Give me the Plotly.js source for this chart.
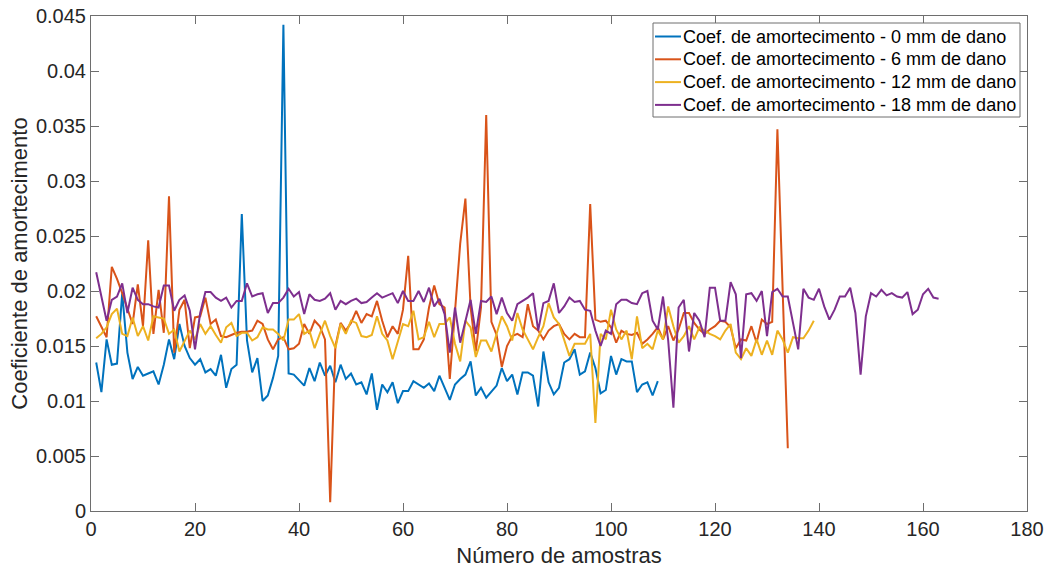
<!DOCTYPE html>
<html>
<head>
<meta charset="utf-8">
<script src="https://cdn.plot.ly/plotly-3.0.1.min.js"></script>
<style>
  html, body { margin: 0; padding: 0; background: #ffffff; }
  #chart { width: 1051px; height: 572px; }
</style>
</head>
<body>
<div id="chart"></div>
<script>
// Series names
const seriesNames = [
  "Coef. de amortecimento - 0 mm de dano",
  "Coef. de amortecimento - 6 mm de dano",
  "Coef. de amortecimento - 12 mm de dano",
  "Coef. de amortecimento - 18 mm de dano"
];

// 0 mm damage (samples 1..109)
const dano0 = [
  0.0135, 0.0108, 0.0156, 0.0133, 0.0134, 0.0198, 0.0144, 0.0120, 0.0131, 0.0123,
  0.0125, 0.0127, 0.0115, 0.0133, 0.0156, 0.0138, 0.0170, 0.0150, 0.0139, 0.0133,
  0.0138, 0.0126, 0.0129, 0.0123, 0.0142, 0.0112, 0.0129, 0.0133, 0.0270, 0.0155,
  0.0126, 0.0139, 0.0100, 0.0105, 0.0121, 0.0141, 0.0442, 0.0125, 0.0124, 0.0119,
  0.0114, 0.0130, 0.0118, 0.0135, 0.0123, 0.0132, 0.0117, 0.0133, 0.0120, 0.0125,
  0.0115, 0.0117, 0.0106, 0.0125, 0.0092, 0.0115, 0.0108, 0.0117, 0.0098, 0.0109,
  0.0109, 0.0118, 0.0115, 0.0112, 0.0116, 0.0109, 0.0123, 0.0112, 0.0101, 0.0115,
  0.0120, 0.0124, 0.0136, 0.0105, 0.0112, 0.0103, 0.0109, 0.0114, 0.0130, 0.0118,
  0.0124, 0.0106, 0.0126, 0.0126, 0.0123, 0.0095, 0.0145, 0.0117, 0.0106, 0.0112,
  0.0135, 0.0138, 0.0147, 0.0124, 0.0127, 0.0144, 0.0130, 0.0107, 0.0110, 0.0141,
  0.0124, 0.0138, 0.0136, 0.0136, 0.0108, 0.0115, 0.0117, 0.0105, 0.0118
];

// 6 mm damage (samples 1..134)
const dano6 = [
  0.0177, 0.0168, 0.0158, 0.0222, 0.0211, 0.0198, 0.0183, 0.0170, 0.0206, 0.0168,
  0.0246, 0.0161, 0.0201, 0.0162, 0.0286, 0.0144, 0.0183, 0.0192, 0.0148, 0.0176,
  0.0177, 0.0194, 0.0170, 0.0174, 0.0159, 0.0158, 0.0160, 0.0162, 0.0163, 0.0163,
  0.0164, 0.0173, 0.0170, 0.0156, 0.0147, 0.0156, 0.0158, 0.0147, 0.0148, 0.0152,
  0.0170, 0.0161, 0.0173, 0.0168, 0.0156, 0.0008, 0.0150, 0.0171, 0.0164, 0.0171,
  0.0182, 0.0171, 0.0179, 0.0177, 0.0191, 0.0173, 0.0158, 0.0168, 0.0161, 0.0183,
  0.0232, 0.0147, 0.0147, 0.0156, 0.0185, 0.0205, 0.0188, 0.0185, 0.0120, 0.0185,
  0.0243, 0.0284, 0.0185, 0.0145, 0.0185, 0.0360, 0.0172, 0.0160, 0.0131, 0.0150,
  0.0159, 0.0161, 0.0158, 0.0188, 0.0168, 0.0164, 0.0156, 0.0164, 0.0168, 0.0170,
  0.0161, 0.0156, 0.0161, 0.0158, 0.0158, 0.0279, 0.0174, 0.0172, 0.0173, 0.0167,
  0.0153, 0.0164, 0.0161, 0.0160, 0.0162, 0.0152, 0.0156, 0.0161, 0.0167, 0.0156,
  0.0168, 0.0155, 0.0165, 0.0180, 0.0180, 0.0171, 0.0165, 0.0161, 0.0165, 0.0168,
  0.0173, 0.0172, 0.0167, 0.0148, 0.0156, 0.0155, 0.0168, 0.0153, 0.0174, 0.0170,
  0.0172, 0.0347, 0.0202, 0.0057
];

// 12 mm damage (samples 1..139)
const dano12 = [
  0.0157, 0.0161, 0.0167, 0.0179, 0.0184, 0.0161, 0.0159, 0.0176, 0.0159, 0.0168,
  0.0155, 0.0177, 0.0176, 0.0175, 0.0161, 0.0165, 0.0145, 0.0155, 0.0164, 0.0156,
  0.0170, 0.0161, 0.0168, 0.0160, 0.0153, 0.0167, 0.0171, 0.0159, 0.0162, 0.0162,
  0.0155, 0.0158, 0.0167, 0.0165, 0.0165, 0.0161, 0.0155, 0.0174, 0.0174, 0.0179,
  0.0161, 0.0164, 0.0148, 0.0161, 0.0173, 0.0159, 0.0148, 0.0170, 0.0161, 0.0173,
  0.0171, 0.0159, 0.0158, 0.0160, 0.0177, 0.0161, 0.0155, 0.0138, 0.0153, 0.0170,
  0.0168, 0.0182, 0.0156, 0.0158, 0.0172, 0.0158, 0.0170, 0.0170, 0.0176, 0.0152,
  0.0136, 0.0173, 0.0167, 0.0140, 0.0155, 0.0155, 0.0145, 0.0160, 0.0177, 0.0168,
  0.0155, 0.0180, 0.0165, 0.0156, 0.0147, 0.0158, 0.0168, 0.0189, 0.0176, 0.0170,
  0.0156, 0.0141, 0.0152, 0.0152, 0.0152, 0.0161, 0.0080, 0.0161, 0.0156, 0.0183,
  0.0165, 0.0156, 0.0164, 0.0138, 0.0177, 0.0148, 0.0152, 0.0147, 0.0164, 0.0156,
  0.0186, 0.0168, 0.0153, 0.0159, 0.0168, 0.0156, 0.0167, 0.0164, 0.0161, 0.0159,
  0.0156, 0.0164, 0.0170, 0.0144, 0.0138, 0.0148, 0.0141, 0.0156, 0.0142, 0.0155,
  0.0142, 0.0164, 0.0156, 0.0144, 0.0158, 0.0157, 0.0157, 0.0164, 0.0173
];

// 18 mm damage (samples 1..163)
const dano18 = [
  0.0217, 0.0195, 0.0173, 0.0192, 0.0195, 0.0207, 0.0180, 0.0203, 0.0192, 0.0188,
  0.0188, 0.0186, 0.0185, 0.0205, 0.0205, 0.0182, 0.0192, 0.0196, 0.0182, 0.0147,
  0.0180, 0.0199, 0.0199, 0.0194, 0.0191, 0.0194, 0.0185, 0.0191, 0.0191, 0.0207,
  0.0195, 0.0197, 0.0198, 0.0180, 0.0189, 0.0189, 0.0194, 0.0202, 0.0195, 0.0199,
  0.0179, 0.0197, 0.0192, 0.0191, 0.0193, 0.0198, 0.0183, 0.0191, 0.0188, 0.0191,
  0.0193, 0.0189, 0.0190, 0.0194, 0.0198, 0.0194, 0.0196, 0.0198, 0.0189, 0.0200,
  0.0191, 0.0191, 0.0200, 0.0190, 0.0203, 0.0186, 0.0193, 0.0179, 0.0144, 0.0185,
  0.0153, 0.0173, 0.0192, 0.0161, 0.0191, 0.0190, 0.0195, 0.0179, 0.0194, 0.0180,
  0.0173, 0.0188, 0.0191, 0.0194, 0.0198, 0.0164, 0.0189, 0.0191, 0.0207, 0.0180,
  0.0186, 0.0194, 0.0190, 0.0191, 0.0183, 0.0182, 0.0164, 0.0150, 0.0164, 0.0161,
  0.0188, 0.0192, 0.0192, 0.0189, 0.0188, 0.0198, 0.0200, 0.0173, 0.0165, 0.0195,
  0.0155, 0.0094, 0.0185, 0.0192, 0.0145, 0.0180, 0.0173, 0.0158, 0.0203, 0.0203,
  0.0173, 0.0173, 0.0208, 0.0197, 0.0139, 0.0197, 0.0198, 0.0191, 0.0200, 0.0159,
  0.0199, 0.0202, 0.0195, 0.0195, 0.0171, 0.0147, 0.0202, 0.0194, 0.0192, 0.0202,
  0.0186, 0.0174, 0.0183, 0.0195, 0.0195, 0.0203, 0.0180, 0.0124, 0.0177, 0.0198,
  0.0195, 0.0201, 0.0196, 0.0198, 0.0195, 0.0194, 0.0199, 0.0179, 0.0183, 0.0197,
  0.0202, 0.0194, 0.0193
];

const seriesValues = [dano0, dano6, dano12, dano18];
const seriesColors = ["#0072BD", "#D95319", "#EDB120", "#7E2F8E"];

// Axis tick settings
const xTickValues = [0, 20, 40, 60, 80, 100, 120, 140, 160, 180];
const yTickValues = [0, 0.005, 0.01, 0.015, 0.02, 0.025, 0.03, 0.035, 0.04, 0.045];
const yTickLabels = ["0", "0.005", "0.01", "0.015", "0.02", "0.025", "0.03", "0.035", "0.04", "0.045"];

function sampleNumbers(n) {
  const out = [];
  for (let i = 1; i <= n; i++) out.push(i);
  return out;
}

const traces = seriesValues.map((vals, k) => ({
  type: "scatter",
  mode: "lines",
  name: seriesNames[k],
  x: sampleNumbers(vals.length),
  y: vals,
  line: { color: seriesColors[k], width: 2 }
}));

const axisColor = "#262626";
const frameColor = "#6e6e6e";
const fontFamily = "Liberation Sans, Arial, Helvetica, sans-serif";

// Plot-area geometry (pixels) used to place the boxed legend
const W = 1051, H = 572;
const M = { l: 91, r: 24, t: 16, b: 61 };
const plotW = W - M.l - M.r, plotH = H - M.t - M.b;
const px2x = (px) => (px - M.l) / plotW;
const py2y = (py) => (H - M.b - py) / plotH;

// Legend box (MATLAB style, opaque, drawn over the lines)
const LEG = { left: 653, right: 1020, top: 23, bottom: 117, firstRow: 36.5, rowGap: 22.8,
              lineStart: 655, lineEnd: 681, textStart: 682 };

const shapes = [{
  type: "rect", xref: "paper", yref: "paper", layer: "above",
  x0: px2x(LEG.left), x1: px2x(LEG.right), y0: py2y(LEG.bottom), y1: py2y(LEG.top),
  fillcolor: "#ffffff", line: { color: frameColor, width: 1 }
}];
const annotations = [];
seriesNames.forEach((name, k) => {
  const yy = py2y(LEG.firstRow + k * LEG.rowGap);
  shapes.push({
    type: "line", xref: "paper", yref: "paper", layer: "above",
    x0: px2x(LEG.lineStart), x1: px2x(LEG.lineEnd), y0: yy, y1: yy,
    line: { color: seriesColors[k], width: 2 }
  });
  annotations.push({
    xref: "paper", yref: "paper", x: px2x(LEG.textStart), y: yy,
    xanchor: "left", yanchor: "middle", showarrow: false, text: name,
    font: { size: 18, family: fontFamily, color: "#000000" }, borderpad: 0
  });
});

const layout = {
  width: W,
  height: H,
  margin: M,
  paper_bgcolor: "#ffffff",
  plot_bgcolor: "#ffffff",
  font: { family: fontFamily, color: axisColor },
  showlegend: false,
  shapes: shapes,
  annotations: annotations,
  xaxis: {
    range: [0, 180],
    tickvals: xTickValues,
    ticktext: xTickValues.map(String),
    ticks: "inside",
    ticklen: 8,
    tickwidth: 1,
    tickcolor: frameColor,
    showline: true,
    linecolor: frameColor,
    linewidth: 1,
    mirror: "ticks",
    showgrid: false,
    zeroline: false,
    tickfont: { size: 20, family: fontFamily, color: axisColor },
    title: { text: "Número de amostras", font: { size: 22, family: fontFamily, color: axisColor }, standoff: 8 },
    automargin: false
  },
  yaxis: {
    range: [0, 0.045],
    tickvals: yTickValues,
    ticktext: yTickLabels,
    ticks: "inside",
    ticklen: 8,
    tickwidth: 1,
    tickcolor: frameColor,
    showline: true,
    linecolor: frameColor,
    linewidth: 1,
    mirror: "ticks",
    showgrid: false,
    zeroline: false,
    tickfont: { size: 20, family: fontFamily, color: axisColor },
    title: { text: "Coeficiente de amortecimento", font: { size: 22, family: fontFamily, color: axisColor }, standoff: 2 },
    automargin: false
  }
};

Plotly.newPlot("chart", traces, layout, { displayModeBar: false, staticPlot: true });
</script>
</body>
</html>
